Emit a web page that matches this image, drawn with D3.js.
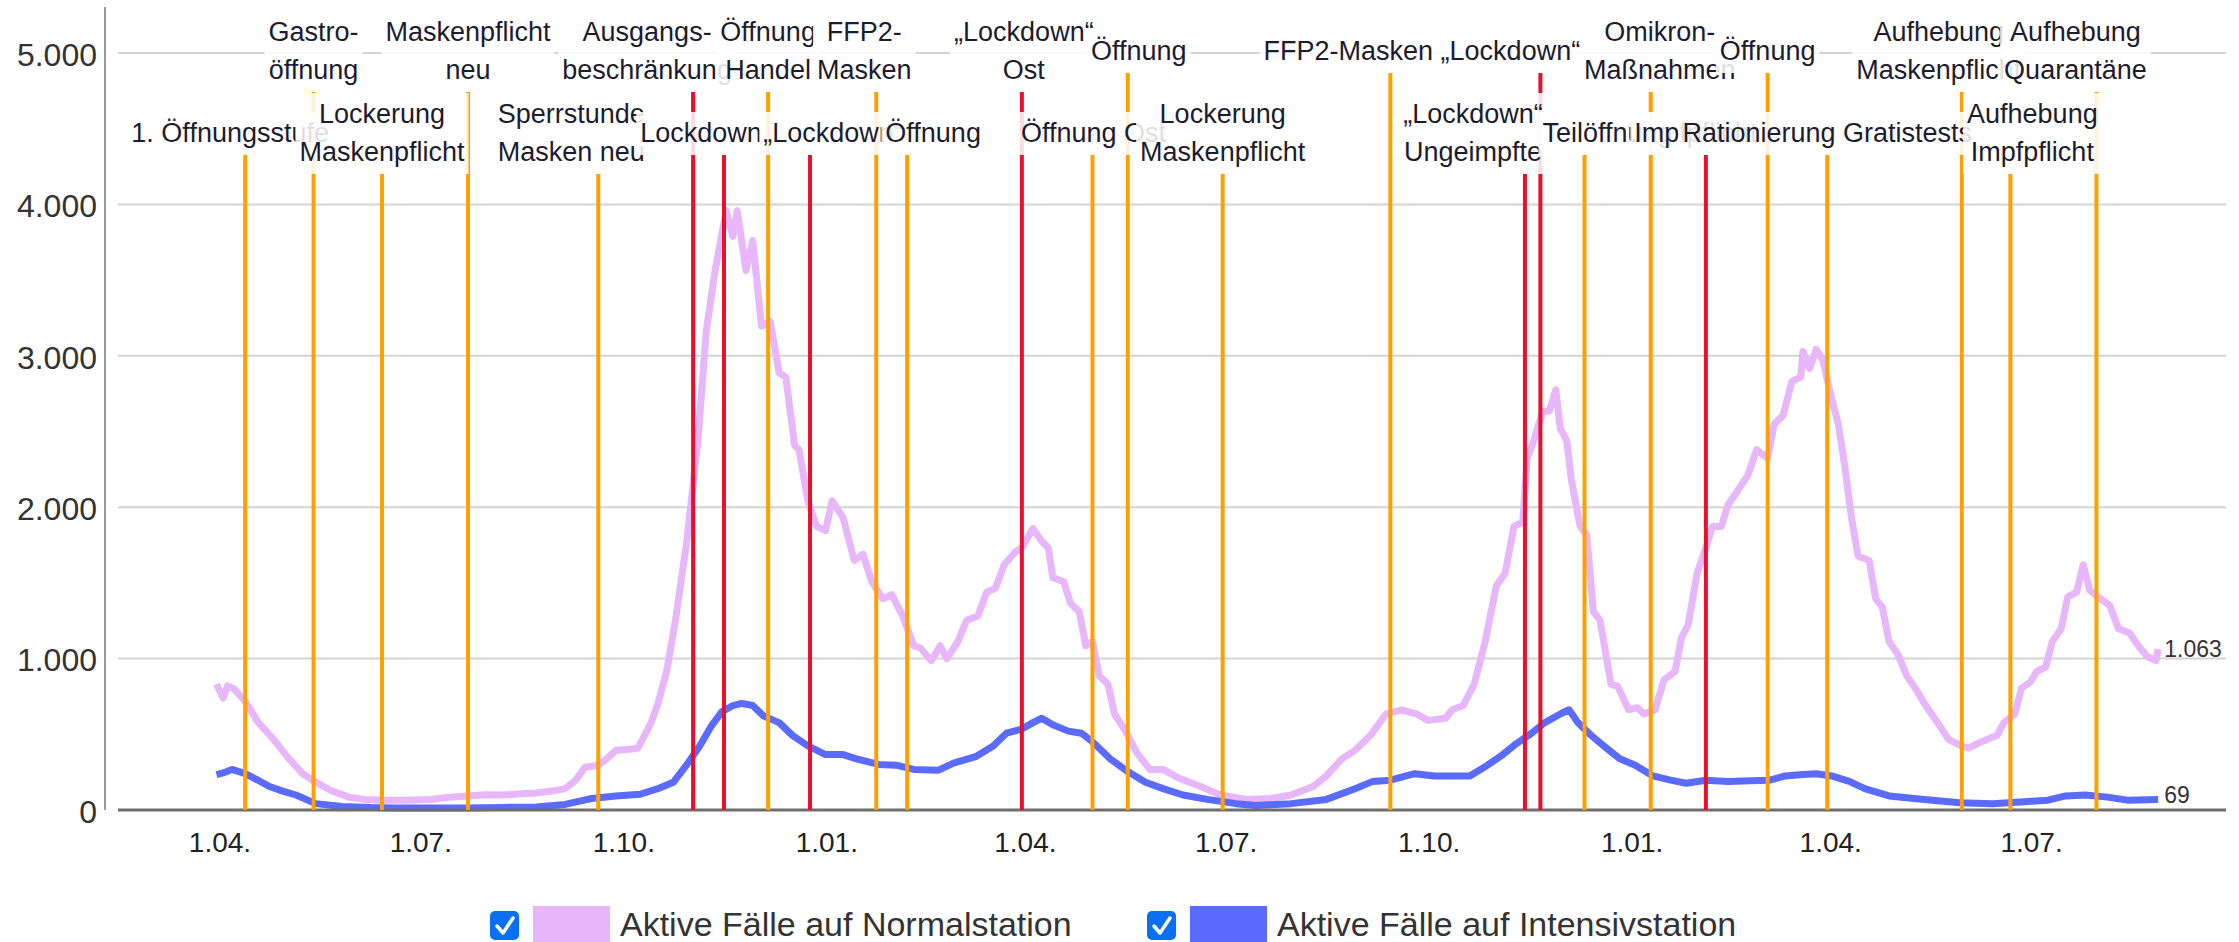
<!DOCTYPE html>
<html><head><meta charset="utf-8">
<script src="https://cdn.jsdelivr.net/npm/d3@7"></script>
<style>
html,body{margin:0;padding:0;background:#fff;}
svg{display:block;font-family:"Liberation Sans",Arial,sans-serif;}
</style></head>
<body><svg id="chart" width="2239" height="942"></svg>
<script>
// ---------- DATA ----------
const normalDates = ["2020-04-01","2020-04-04","2020-04-06","2020-04-09","2020-04-14","2020-04-20","2020-04-27","2020-05-03","2020-05-10","2020-05-16","2020-05-23","2020-05-31","2020-06-07","2020-06-15","2020-06-26","2020-07-07","2020-07-16","2020-07-24","2020-08-01","2020-08-08","2020-08-16","2020-08-24","2020-08-31","2020-09-06","2020-09-11","2020-09-15","2020-09-21","2020-09-25","2020-09-29","2020-10-04","2020-10-09","2020-10-15","2020-10-18","2020-10-22","2020-10-26","2020-10-31","2020-11-05","2020-11-09","2020-11-13","2020-11-16","2020-11-18","2020-11-21","2020-11-23","2020-11-27","2020-11-30","2020-12-04","2020-12-08","2020-12-12","2020-12-15","2020-12-19","2020-12-21","2020-12-25","2020-12-29","2021-01-02","2021-01-05","2021-01-10","2021-01-15","2021-01-19","2021-01-23","2021-01-28","2021-02-01","2021-02-06","2021-02-11","2021-02-14","2021-02-19","2021-02-23","2021-02-26","2021-03-03","2021-03-07","2021-03-12","2021-03-16","2021-03-20","2021-03-24","2021-03-29","2021-04-01","2021-04-06","2021-04-10","2021-04-13","2021-04-15","2021-04-20","2021-04-23","2021-04-27","2021-04-30","2021-05-03","2021-05-06","2021-05-10","2021-05-13","2021-05-18","2021-05-23","2021-05-29","2021-06-04","2021-06-11","2021-06-21","2021-06-30","2021-07-12","2021-07-23","2021-08-01","2021-08-11","2021-08-17","2021-08-24","2021-08-30","2021-09-06","2021-09-13","2021-09-20","2021-09-27","2021-10-02","2021-10-10","2021-10-13","2021-10-18","2021-10-23","2021-10-28","2021-11-02","2021-11-06","2021-11-10","2021-11-14","2021-11-16","2021-11-19","2021-11-23","2021-11-26","2021-11-29","2021-12-01","2021-12-04","2021-12-06","2021-12-10","2021-12-13","2021-12-16","2021-12-19","2021-12-24","2021-12-27","2022-01-01","2022-01-05","2022-01-08","2022-01-13","2022-01-17","2022-01-22","2022-01-25","2022-01-28","2022-02-01","2022-02-05","2022-02-08","2022-02-12","2022-02-15","2022-02-19","2022-02-24","2022-02-28","2022-03-05","2022-03-08","2022-03-12","2022-03-16","2022-03-20","2022-03-21","2022-03-24","2022-03-27","2022-03-30","2022-04-03","2022-04-06","2022-04-09","2022-04-12","2022-04-15","2022-04-20","2022-04-23","2022-04-26","2022-04-29","2022-05-03","2022-05-07","2022-05-11","2022-05-15","2022-05-21","2022-05-26","2022-06-01","2022-06-04","2022-06-10","2022-06-17","2022-06-20","2022-06-25","2022-06-28","2022-07-02","2022-07-05","2022-07-09","2022-07-12","2022-07-16","2022-07-19","2022-07-23","2022-07-26","2022-07-29","2022-08-03","2022-08-07","2022-08-11","2022-08-16","2022-08-20","2022-08-24","2022-08-28","2022-08-29"];
const normalValues = [830,740,820,800,718,577,465,352,240,183,127,85,70,65,65,70,85,93,100,99,105,113,125,141,200,282,296,340,394,400,408,577,700,915,1253,1760,2408,3169,3563,3800,3958,3789,3958,3563,3761,3197,3225,2887,2859,2408,2380,2042,1873,1845,2042,1930,1648,1690,1507,1394,1423,1282,1085,1070,986,1085,1000,1113,1254,1282,1437,1465,1620,1704,1732,1859,1775,1732,1535,1507,1366,1310,1085,1113,887,831,634,521,380,268,268,211,155,99,70,76,99,155,225,338,394,493,634,662,634,592,606,662,690,831,1113,1479,1563,1873,1902,2324,2437,2634,2634,2775,2521,2437,2183,1873,1817,1310,1254,831,817,662,676,634,662,859,915,1141,1225,1563,1732,1873,1873,2014,2100,2211,2380,2324,2549,2606,2831,2859,3028,2916,3042,2972,2718,2549,2268,1930,1676,1648,1394,1338,1113,1028,887,803,704,577,465,423,408,451,493,577,634,803,845,915,944,1113,1197,1408,1437,1620,1451,1394,1352,1197,1169,1085,1014,986,1063];

const icuDates = ["2020-04-01","2020-04-04","2020-04-08","2020-04-14","2020-04-20","2020-04-25","2020-05-01","2020-05-07","2020-05-16","2020-05-28","2020-06-10","2020-06-21","2020-07-10","2020-07-23","2020-08-09","2020-08-24","2020-09-06","2020-09-13","2020-09-18","2020-09-29","2020-10-10","2020-10-18","2020-10-25","2020-10-31","2020-11-06","2020-11-11","2020-11-16","2020-11-21","2020-11-25","2020-11-30","2020-12-05","2020-12-12","2020-12-18","2020-12-25","2021-01-02","2021-01-10","2021-01-16","2021-01-26","2021-02-03","2021-02-11","2021-02-22","2021-03-01","2021-03-11","2021-03-19","2021-03-25","2021-04-01","2021-04-06","2021-04-10","2021-04-15","2021-04-22","2021-04-28","2021-05-03","2021-05-11","2021-05-19","2021-05-27","2021-06-04","2021-06-13","2021-06-24","2021-07-07","2021-07-16","2021-08-01","2021-08-17","2021-08-30","2021-09-07","2021-09-15","2021-09-26","2021-10-05","2021-10-21","2021-10-29","2021-11-05","2021-11-11","2021-11-18","2021-11-24","2021-12-01","2021-12-05","2021-12-09","2021-12-15","2021-12-22","2021-12-28","2022-01-04","2022-01-12","2022-01-20","2022-01-27","2022-02-05","2022-02-15","2022-02-25","2022-03-06","2022-03-13","2022-03-21","2022-03-27","2022-04-03","2022-04-11","2022-04-18","2022-04-29","2022-05-15","2022-05-31","2022-06-15","2022-07-01","2022-07-10","2022-07-18","2022-07-27","2022-08-06","2022-08-15","2022-08-29"];
const icuValues = [234,245,268,240,195,155,125,99,42,23,16,14,13,14,17,20,37,60,76,93,104,141,183,296,423,549,648,690,704,690,620,577,493,423,366,366,338,301,296,268,262,310,352,423,507,535,577,606,563,521,507,451,338,254,183,141,99,70,42,30,42,70,141,189,197,240,225,225,296,366,437,507,577,634,662,577,493,408,338,296,225,197,177,197,189,194,197,225,234,240,225,189,141,93,70,48,42,56,65,93,99,85,65,69];

const seriesNames = ["Aktive Fälle auf Normalstation","Aktive Fälle auf Intensivstation"];

const eventDates = ["2020-04-14","2020-05-15","2020-06-15","2020-07-24","2020-09-21","2020-11-03","2020-11-17","2020-12-07","2020-12-26","2021-01-25","2021-02-08","2021-04-01","2021-05-03","2021-05-19","2021-07-01","2021-09-15","2021-11-15","2021-11-22","2021-12-12","2022-01-11","2022-02-05","2022-03-05","2022-04-01","2022-06-01","2022-06-23","2022-08-01"];
const eventLabels = [["1. Öffnungsstufe"],["Gastro-","öffnung"],["Lockerung","Maskenpflicht"],["Maskenpflicht","neu"],["Sperrstunde","Masken neu"],["Ausgangs-","beschränkung"],["Lockdown"],["Öffnung","Handel"],["„Lockdown“"],["FFP2-","Masken"],["Öffnung"],["„Lockdown“","Ost"],["Öffnung Ost"],["Öffnung"],["Lockerung","Maskenpflicht"],["FFP2-Masken"],["„Lockdown“","Ungeimpfte"],["„Lockdown“"],["Teilöffnung"],["Omikron-","Maßnahmen"],["Impfpflicht"],["Öffnung"],["Rationierung Gratistests"],["Aufhebung","Maskenpflicht"],["Aufhebung","Impfpflicht"],["Aufhebung","Quarantäne"]];
const eventKinds = ["open","open","open","open","open","close","close","open","close","open","open","close","open","open","open","open","close","close","open","open","close","open","open","open","open","open"];

const yTicks = [0,1000,2000,3000,4000,5000];

// ---------- LAYOUT (not data) ----------
const labelRow = [1,0,1,0,1,0,1,0,1,0,1,0,1,0,1,0,1,0,1,0,1,0,1,0,1,0];
const labelShift = [-15,0,0,0,-27,-46,-23,0,23,-12,26,2,1,11,0,-42,-52,-30,23,9,-10,0,0,-23,22,-21];

// ---------- DRAW ----------
const svg = d3.select("#chart");
const parse = d3.utcParse("%Y-%m-%d");
const de = d3.formatLocale({decimal:",",thousands:".",grouping:[3],currency:["","€"]});
const fmt = de.format(",");

const x = d3.scaleUtc().domain([parse("2020-02-16"), parse("2022-09-28")]).range([117.2, 2224.4]);
const y = d3.scaleLinear().domain([0,5000]).range([810,53]);
const left = 118, right = 2226;

const colors = {open:"#ffa000", close:"#e8102c", normal:"#e7b6fb", icu:"#5b6bff"};

// gridlines
svg.append("g").selectAll("line").data(yTicks.filter(d=>d>0)).join("line")
  .attr("x1",left).attr("x2",right).attr("y1",d=>y(d)).attr("y2",d=>y(d))
  .attr("stroke","#d4d4d4").attr("stroke-width",2);

// y axis line
svg.append("line").attr("x1",105).attr("x2",105).attr("y1",7).attr("y2",810)
  .attr("stroke","#9a9a9a").attr("stroke-width",2);

// y axis labels
const yAxis = d3.axisLeft(y).tickValues(yTicks).tickFormat(fmt).tickSize(0).tickPadding(8);
const gy = svg.append("g").attr("transform","translate(105,2)").call(yAxis);
gy.select(".domain").remove();
gy.selectAll("text").attr("font-size",32).attr("fill","#333").attr("font-family","'Liberation Sans',Arial,sans-serif");

// x axis labels
const xAxis = d3.axisBottom(x).ticks(d3.utcMonth.every(3)).tickFormat(d3.utcFormat("%-d.%m.")).tickSize(0).tickPadding(22);
const gx = svg.append("g").attr("transform","translate(3,810)").call(xAxis);
gx.select(".domain").remove();
gx.selectAll("text").attr("font-size",28).attr("fill","#222").attr("font-family","'Liberation Sans',Arial,sans-serif");

// series
const normalData = normalDates.map((d,i)=>({date:parse(d), v:normalValues[i]}));
const icuData = icuDates.map((d,i)=>({date:parse(d), v:icuValues[i]}));
const line = d3.line().x(d=>x(d.date)).y(d=>y(d.v));
svg.append("path").datum(normalData).attr("d",line).attr("fill","none")
  .attr("stroke",colors.normal).attr("stroke-width",7).attr("stroke-linejoin","round");
svg.append("path").datum(icuData).attr("d",line).attr("fill","none")
  .attr("stroke",colors.icu).attr("stroke-width",7).attr("stroke-linejoin","round");

// baseline
svg.append("line").attr("x1",left).attr("x2",right).attr("y1",y(0)).attr("y2",y(0))
  .attr("stroke","#6e6e6e").attr("stroke-width",3);

// events
const rowCenter = [51, 133];
const lineGap = 38;
const events = eventDates.map((d,i)=>{
  const n = eventLabels[i].length;
  const c = rowCenter[labelRow[i]];
  const first = c - (n-1)*lineGap/2;
  const last = first + (n-1)*lineGap;
  return {date:parse(d), lines:eventLabels[i], kind:eventKinds[i], first, last,
          top:first-21, bottom:last+22, lx:x(parse(d))+labelShift[i]};
});

// vertical event lines
svg.append("g").selectAll("line").data(events).join("line")
  .attr("x1",d=>x(d.date)).attr("x2",d=>x(d.date))
  .attr("y1",d=>d.bottom).attr("y2",y(0))
  .attr("stroke",d=>colors[d.kind]).attr("stroke-width",4);

// labels with semi-opaque white boxes, in chronological order
const lg = svg.append("g");
events.forEach(ev=>{
  const g = lg.append("g");
  const rect = g.append("rect");
  const texts = g.selectAll("text").data(ev.lines).join("text")
    .attr("x",ev.lx).attr("y",(t,j)=>ev.first+j*lineGap)
    .attr("text-anchor","middle").attr("dominant-baseline","central")
    .attr("font-size",27).attr("fill","#1c1c2e")
    .text(t=>t);
  let w = 0;
  texts.each(function(){ w = Math.max(w, this.getComputedTextLength()); });
  rect.attr("x",ev.lx-w/2-4).attr("width",w+8)
    .attr("y",ev.top).attr("height",ev.bottom-ev.top)
    .attr("fill","#fff").attr("fill-opacity",0.86);
});

// end value labels
const lastN = normalData[normalData.length-1], lastI = icuData[icuData.length-1];
svg.append("text").attr("x",x(lastN.date)+6).attr("y",y(lastN.v)).attr("dominant-baseline","central")
  .attr("font-size",23).attr("fill","#333").text(fmt(lastN.v));
svg.append("text").attr("x",x(lastI.date)+6).attr("y",y(lastI.v)-5).attr("dominant-baseline","central")
  .attr("font-size",23).attr("fill","#333").text(fmt(lastI.v));

// legend
const legendX = [490, 1147];
const legendColors = [colors.normal, colors.icu];
seriesNames.forEach((name,i)=>{
  const g = svg.append("g").attr("transform",`translate(${legendX[i]},0)`);
  g.append("rect").attr("x",0).attr("y",911).attr("width",29).attr("height",29).attr("rx",5)
    .attr("fill","#0b6ff2");
  g.append("path").attr("d","M7,926 L13,933 L23,918").attr("fill","none")
    .attr("stroke","#fff").attr("stroke-width",3.5).attr("stroke-linecap","round").attr("stroke-linejoin","round");
  g.append("rect").attr("x",43).attr("y",906).attr("width",77).attr("height",40).attr("fill",legendColors[i]);
  g.append("text").attr("x",130).attr("y",936).attr("font-size",34).attr("fill","#333").text(name);
});
</script>
</body></html>
